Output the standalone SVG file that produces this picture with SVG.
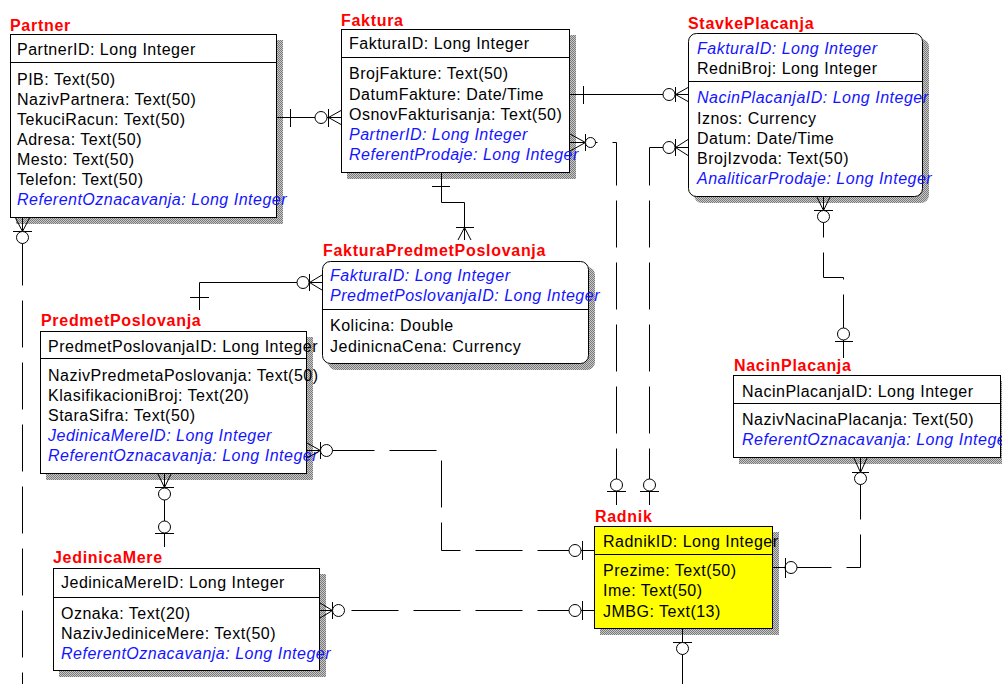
<svg xmlns="http://www.w3.org/2000/svg" width="1002" height="684" viewBox="0 0 1002 684">
  <defs>
    <!-- dithered grey used for the drop shadows -->
    <pattern id="dither" width="2" height="2" patternUnits="userSpaceOnUse">
      <rect width="2" height="2" fill="#c8c8c8"/>
      <rect width="1" height="1" fill="#7a7a7a"/>
      <rect x="1" y="1" width="1" height="1" fill="#7a7a7a"/>
    </pattern>
    <style>
      .t { font-family: "Liberation Sans", Arial, sans-serif; font-size: 16px; letter-spacing: 0.5px; fill: #000; }
      .k { fill: #1414ff; font-style: italic; }
      .ttl { font-family: "Liberation Sans", Arial, sans-serif; font-size: 16px; font-weight: bold; letter-spacing: 0.7px; fill: #ff0000; }
      .box { fill: #fff; stroke: #000; stroke-width: 1; }
      .yel { fill: #ffff00; stroke: #000; stroke-width: 1; }
      .sh { fill: url(#dither); }
      .sep { stroke: #000; stroke-width: 1; }
      .ln { stroke: #000; stroke-width: 1; fill: none; }
      .dash { stroke-dasharray: 47 15; }
      .o { fill: #fff; stroke: #000; stroke-width: 1; }
    </style>
  </defs>
  <rect width="1002" height="684" fill="#fff"/>

  <!-- Partner -->
  <g id="partner">
    <text class="ttl" x="10" y="31">Partner</text>
    <rect class="sh" x="16" y="40" width="267" height="184"/>
    <rect class="box" x="10.5" y="34.5" width="266" height="183"/>
    <line class="sep" x1="10.5" y1="62.5" x2="276.5" y2="62.5"/>
    <text class="t" x="17" y="55">PartnerID: Long Integer</text>
    <text class="t" x="17" y="85">PIB: Text(50)</text>
    <text class="t" x="17" y="105">NazivPartnera: Text(50)</text>
    <text class="t" x="17" y="125">TekuciRacun: Text(50)</text>
    <text class="t" x="17" y="145">Adresa: Text(50)</text>
    <text class="t" x="17" y="165">Mesto: Text(50)</text>
    <text class="t" x="17" y="185">Telefon: Text(50)</text>
    <text class="t k" x="17" y="205">ReferentOznacavanja: Long Integer</text>
  </g>

  <!-- Faktura -->
  <g id="faktura">
    <text class="ttl" x="341" y="26">Faktura</text>
    <rect class="sh" x="347" y="35" width="229" height="144"/>
    <rect class="box" x="341.5" y="29.5" width="228" height="143"/>
    <line class="sep" x1="341.5" y1="57.5" x2="569.5" y2="57.5"/>
    <text class="t" x="349" y="49">FakturaID: Long Integer</text>
    <text class="t" x="349" y="79">BrojFakture: Text(50)</text>
    <text class="t" x="349" y="100">DatumFakture: Date/Time</text>
    <text class="t" x="349" y="120">OsnovFakturisanja: Text(50)</text>
    <text class="t k" x="349" y="140">PartnerID: Long Integer</text>
    <text class="t k" x="349" y="160">ReferentProdaje: Long Integer</text>
  </g>

  <!-- StavkePlacanja -->
  <g id="stavkeplacanja">
    <text class="ttl" x="688" y="29">StavkePlacanja</text>
    <rect class="sh" x="694" y="39" width="235" height="164" rx="8"/>
    <rect class="box" x="688.5" y="33.5" width="234" height="163" rx="8"/>
    <line class="sep" x1="688.5" y1="81.5" x2="922.5" y2="81.5"/>
    <text class="t k" x="697" y="54">FakturaID: Long Integer</text>
    <text class="t" x="697" y="74">RedniBroj: Long Integer</text>
    <text class="t k" x="697" y="103">NacinPlacanjaID: Long Integer</text>
    <text class="t" x="697" y="124">Iznos: Currency</text>
    <text class="t" x="697" y="144">Datum: Date/Time</text>
    <text class="t" x="697" y="164">BrojIzvoda: Text(50)</text>
    <text class="t k" x="697" y="184">AnaliticarProdaje: Long Integer</text>
  </g>

  <!-- FakturaPredmetPoslovanja -->
  <g id="fakturapredmetposlovanja">
    <text class="ttl" x="323" y="256">FakturaPredmetPoslovanja</text>
    <rect class="sh" x="328" y="267" width="267" height="103" rx="8"/>
    <rect class="box" x="322.5" y="261.5" width="266" height="102" rx="8"/>
    <line class="sep" x1="322.5" y1="309.5" x2="588.5" y2="309.5"/>
    <text class="t k" x="330" y="281">FakturaID: Long Integer</text>
    <text class="t k" x="330" y="301">PredmetPoslovanjaID: Long Integer</text>
    <text class="t" x="330" y="331">Kolicina: Double</text>
    <text class="t" x="330" y="352">JedinicnaCena: Currency</text>
  </g>

  <!-- PredmetPoslovanja -->
  <g id="predmetposlovanja">
    <text class="ttl" x="41" y="326">PredmetPoslovanja</text>
    <rect class="sh" x="46" y="337" width="267" height="143"/>
    <rect class="box" x="40.5" y="331.5" width="266" height="142"/>
    <line class="sep" x1="40.5" y1="358.5" x2="306.5" y2="358.5"/>
    <text class="t" x="48" y="352">PredmetPoslovanjaID: Long Integer</text>
    <text class="t" x="48" y="381">NazivPredmetaPoslovanja: Text(50)</text>
    <text class="t" x="48" y="401">KlasifikacioniBroj: Text(20)</text>
    <text class="t" x="48" y="421">StaraSifra: Text(50)</text>
    <text class="t k" x="48" y="441">JedinicaMereID: Long Integer</text>
    <text class="t k" x="48" y="461">ReferentOznacavanja: Long Integer</text>
  </g>

  <!-- JedinicaMere -->
  <g id="jedinicamere">
    <text class="ttl" x="53" y="563">JedinicaMere</text>
    <rect class="sh" x="59" y="574" width="267" height="103"/>
    <rect class="box" x="53.5" y="568.5" width="266" height="102"/>
    <line class="sep" x1="53.5" y1="597.5" x2="319.5" y2="597.5"/>
    <text class="t" x="61" y="588">JedinicaMereID: Long Integer</text>
    <text class="t" x="61" y="619">Oznaka: Text(20)</text>
    <text class="t" x="61" y="639">NazivJediniceMere: Text(50)</text>
    <text class="t k" x="61" y="659">ReferentOznacavanja: Long Integer</text>
  </g>

  <!-- NacinPlacanja -->
  <g id="nacinplacanja">
    <text class="ttl" x="734" y="371">NacinPlacanja</text>
    <rect class="sh" x="739" y="381" width="268" height="83"/>
    <rect class="box" x="733.5" y="375.5" width="267" height="82"/>
    <line class="sep" x1="733.5" y1="403.5" x2="1000.5" y2="403.5"/>
    <text class="t" x="742" y="397">NacinPlacanjaID: Long Integer</text>
    <text class="t" x="742" y="425">NazivNacinaPlacanja: Text(50)</text>
    <text class="t k" x="742" y="445">ReferentOznacavanja: Long Integer</text>
  </g>

  <!-- Radnik -->
  <g id="radnik">
    <text class="ttl" x="595" y="522">Radnik</text>
    <rect class="sh" x="600" y="532" width="179" height="103"/>
    <rect class="yel" x="594.5" y="526.5" width="178" height="102"/>
    <line class="sep" x1="594.5" y1="554.5" x2="772.5" y2="554.5"/>
    <text class="t" x="603" y="547">RadnikID: Long Integer</text>
    <text class="t" x="603" y="576">Prezime: Text(50)</text>
    <text class="t" x="603" y="596">Ime: Text(50)</text>
    <text class="t" x="603" y="617">JMBG: Text(13)</text>
  </g>

  <!-- relationships -->
  <g id="connectors">
    <!-- Partner - Faktura -->
    <g id="r-partner-faktura">
      <path class="ln" d="M277,117.5 H341 M290.5,109 V127 M328.5,109 V127 M328.5,117.5 L341,110.5 M328.5,117.5 L341,124.5"/>
      <circle class="o" cx="321" cy="117.5" r="6"/>
    </g>
    <!-- Faktura - StavkePlacanja -->
    <g id="r-faktura-stavke">
      <path class="ln" d="M570,94.5 H688 M583.5,86 V104 M675.5,87 V102 M675.5,94.5 L688,87.5 M675.5,94.5 L688,101.5"/>
      <circle class="o" cx="669" cy="94.5" r="6"/>
    </g>
    <!-- Faktura.ReferentProdaje - Radnik -->
    <g id="r-faktura-radnik">
      <path class="ln" d="M570,134 L585.5,142.5 L570,151 M570,142.5 H585.5 M585.5,134 V151"/>
      <circle class="o" cx="590.5" cy="142.5" r="5"/>
      <path class="ln dash" stroke-dashoffset="45" d="M595.5,142.5 H616.5 V479"/>
      <circle class="o" cx="616.5" cy="485" r="6"/>
      <path class="ln" d="M607,491.5 H626 M616.5,491 V505"/>
    </g>
    <!-- StavkePlacanja.AnaliticarProdaje - Radnik -->
    <g id="r-stavke-radnik">
      <path class="ln" d="M688,139.5 L675.5,147.5 L688,155.5 M675.5,147.5 H688 M675.5,139 V156 M663,147.5 H649.5"/>
      <circle class="o" cx="669" cy="147.5" r="6"/>
      <path class="ln dash" stroke-dashoffset="9" d="M649.5,147.5 V479"/>
      <circle class="o" cx="649.5" cy="485" r="6"/>
      <path class="ln" d="M640,491.5 H659 M649.5,491 V505"/>
    </g>
    <!-- Faktura - FakturaPredmetPoslovanja -->
    <g id="r-faktura-fpp">
      <path class="ln" d="M441.5,173 V202.5 H464.5 V240 M432,186.5 H450 M456,227.5 H474 M464.5,227.5 L458,240 M464.5,227.5 L471,240"/>
    </g>
    <!-- PredmetPoslovanja - FakturaPredmetPoslovanja -->
    <g id="r-pp-fpp">
      <path class="ln" d="M322,275 L309.5,282.5 L322,290 M309.5,282.5 H322 M309.5,274 V291 M297,282.5 H199.5 V310 M190,297.5 H209"/>
      <circle class="o" cx="303" cy="282.5" r="6"/>
    </g>
    <!-- JedinicaMere - PredmetPoslovanja -->
    <g id="r-jm-pp">
      <path class="ln" d="M164.5,474 V547 M158,474 L164.5,487.5 L171,474 M155,487.5 H174 M155,533.5 H174"/>
      <circle class="o" cx="164.5" cy="494" r="6"/>
      <circle class="o" cx="164.5" cy="527" r="6"/>
    </g>
    <!-- PredmetPoslovanja.ReferentOznacavanja - Radnik -->
    <g id="r-pp-radnik">
      <path class="ln" d="M307,443 L320.5,450.5 L307,458 M307,450.5 H320.5 M320.5,442 V459"/>
      <circle class="o" cx="326.5" cy="450.5" r="6"/>
      <path class="ln dash" stroke-dashoffset="5" d="M332.5,450.5 H441.5 V550.5 H569"/>
      <circle class="o" cx="575" cy="550.5" r="6"/>
      <path class="ln" d="M582.5,541 V560 M581,550.5 H594"/>
    </g>
    <!-- JedinicaMere.ReferentOznacavanja - Radnik -->
    <g id="r-jm-radnik">
      <path class="ln" d="M320,603 L332.5,610.5 L320,618 M320,610.5 H332.5 M332.5,602 V619"/>
      <circle class="o" cx="338.5" cy="610.5" r="6"/>
      <path class="ln dash" stroke-dashoffset="55" d="M344.5,610.5 H569"/>
      <circle class="o" cx="575" cy="610.5" r="6"/>
      <path class="ln" d="M582.5,601 V620 M581,610.5 H594"/>
    </g>
    <!-- NacinPlacanja.ReferentOznacavanja - Radnik -->
    <g id="r-np-radnik">
      <path class="ln" d="M854,458 L860.5,472.5 L867,458 M860.5,458 V472.5 M852,472.5 H869"/>
      <circle class="o" cx="860.5" cy="478.5" r="6"/>
      <path class="ln dash" stroke-dashoffset="12" d="M860.5,484.5 V567.5 H797"/>
      <circle class="o" cx="791" cy="567.5" r="6"/>
      <path class="ln" d="M785.5,558 V578 M785,567.5 H773"/>
    </g>
    <!-- NacinPlacanja - StavkePlacanja -->
    <g id="r-np-stavke">
      <path class="ln" d="M817,197 L823.5,210.5 L830,197 M823.5,197 V210.5 M814,210.5 H833"/>
      <circle class="o" cx="823.5" cy="216.5" r="6"/>
      <path class="ln dash" stroke-dashoffset="32" d="M823.5,222.5 V277.5 H843.5 V328"/>
      <circle class="o" cx="843.5" cy="334" r="6"/>
      <path class="ln" d="M835,341.5 H853 M843.5,340 V358"/>
    </g>
    <!-- Partner.ReferentOznacavanja - Radnik -->
    <g id="r-partner-radnik">
      <path class="ln" d="M15.5,218 L22.5,231.5 L29.5,218 M22.5,218 V231.5 M13,231.5 H32"/>
      <circle class="o" cx="22.5" cy="237.5" r="6"/>
      <path class="ln dash" stroke-dashoffset="5" d="M22.5,243.5 V684"/>
    </g>
    <!-- Radnik - lower relationship -->
    <g id="r-radnik-down">
      <path class="ln" d="M682.5,629 V684 M673,642.5 H692"/>
      <circle class="o" cx="682.5" cy="648.5" r="6"/>
    </g>
  </g>
</svg>
